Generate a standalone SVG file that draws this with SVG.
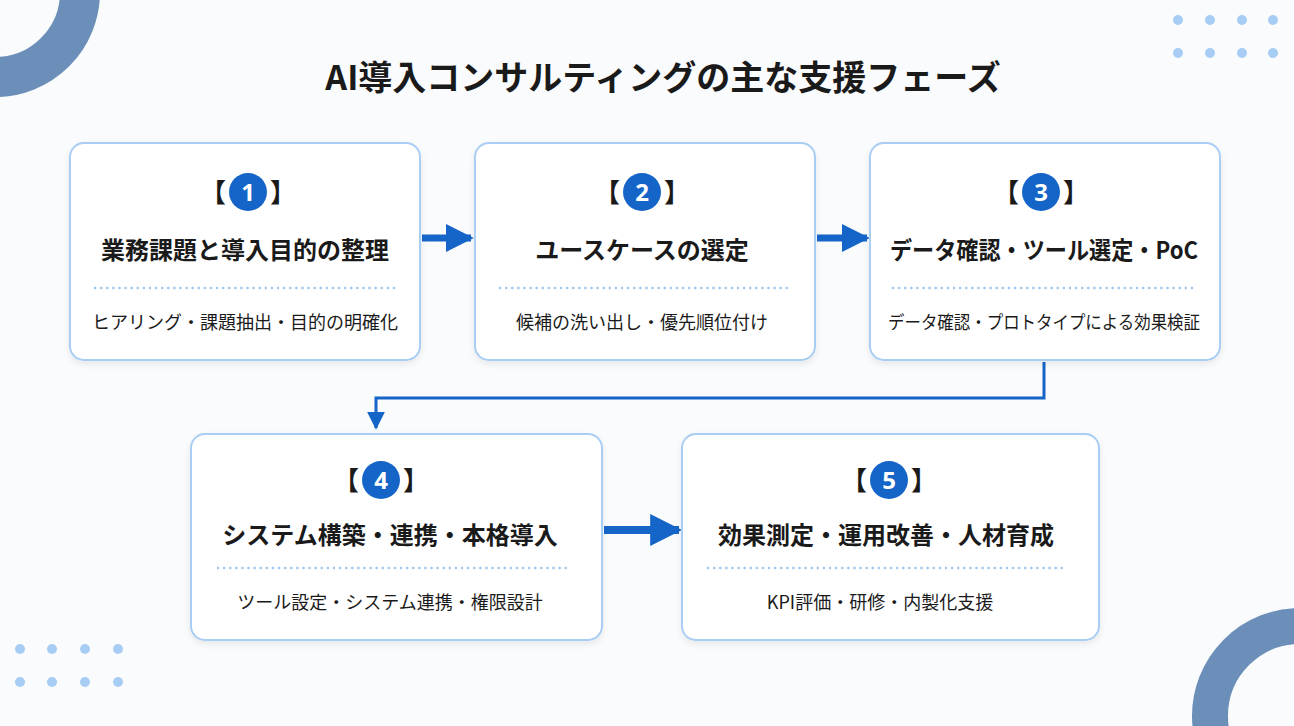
<svg xmlns="http://www.w3.org/2000/svg" width="1294" height="726" viewBox="0 0 1294 726">
<defs>
<style>
.box{fill:#fff;stroke:#a9cdf3;stroke-width:2}
.t{font-family:"Noto Sans CJK JP","Noto Sans",sans-serif;fill:#1a1a1a;text-anchor:middle}
.h{font-size:24px;font-weight:700}
.s{font-size:18px}
.br{font-size:26px;font-weight:700}
.num{font-family:"Noto Sans","Liberation Sans",sans-serif;font-size:24px;font-weight:700;fill:#fff;text-anchor:middle}
.dot{stroke:#9cc6ef;stroke-width:2.5;stroke-dasharray:0.1 6;stroke-linecap:round}
.bd{fill:#1565c8}
.ar{stroke:#1565c8;fill:none}
.dd{fill:#a8cdf5}
</style>
<filter id="sh" x="-10%" y="-10%" width="120%" height="130%"><feDropShadow dx="0" dy="3" stdDeviation="3" flood-color="#000" flood-opacity="0.08"/></filter>
<marker id="ah" viewBox="0 0 10 10" refX="9" refY="5" markerWidth="4" markerHeight="4" orient="auto" markerUnits="strokeWidth"><path d="M0 0L10 5L0 10z" fill="#1565c8"/></marker>
<marker id="ah2" viewBox="0 0 10 10" refX="9" refY="5" markerWidth="6" markerHeight="6" orient="auto" markerUnits="strokeWidth"><path d="M0 0L10 5L0 10z" fill="#1565c8"/></marker>
</defs>
<rect width="1294" height="726" fill="#fafbfc"/>
<g id="decor">
<circle cx="-5" cy="-8" r="85" fill="none" stroke="#6b8fb8" stroke-width="40"/>
<circle cx="1300" cy="716" r="90" fill="none" stroke="#6b8fb8" stroke-width="36"/>
<g class="dd">
<circle cx="1178" cy="20" r="5"/><circle cx="1210" cy="20" r="5"/><circle cx="1242" cy="20" r="5"/><circle cx="1273" cy="20" r="5"/>
<circle cx="1178" cy="53" r="5"/><circle cx="1210" cy="53" r="5"/><circle cx="1242" cy="53" r="5"/><circle cx="1273" cy="53" r="5"/>
<circle cx="20" cy="649" r="5"/><circle cx="52" cy="649" r="5"/><circle cx="85" cy="649" r="5"/><circle cx="118" cy="649" r="5"/>
<circle cx="20" cy="682" r="5"/><circle cx="52" cy="682" r="5"/><circle cx="85" cy="682" r="5"/><circle cx="118" cy="682" r="5"/>
</g>
</g>
<text id="title" x="663" y="90" class="t" style="font-size:34px;font-weight:700">AI導入コンサルティングの主な支援フェーズ</text>
<g id="connectors">
<line x1="422" y1="238" x2="471" y2="238" class="ar" stroke-width="7" marker-end="url(#ah)"/>
<line x1="817" y1="238" x2="867" y2="238" class="ar" stroke-width="7" marker-end="url(#ah)"/>
<line x1="604" y1="530" x2="679" y2="530" class="ar" stroke-width="8" marker-end="url(#ah)"/>
<path d="M1044 362V398H376V428" class="ar" stroke-width="3" marker-end="url(#ah2)"/>
</g>
<g id="n1">
<rect x="70" y="143" width="350" height="217" rx="14" class="box" filter="url(#sh)"/>
<text x="213" y="202" class="t br">【</text><circle cx="248" cy="192" r="19" class="bd"/><text x="248" y="201" class="num">1</text><text x="283" y="202" class="t br">】</text>
<text x="245" y="259" class="t h">業務課題と導入目的の整理</text>
<line x1="95" y1="288" x2="397" y2="288" class="dot"/>
<text x="245" y="329" class="t s">ヒアリング・課題抽出・目的の明確化</text>
</g>
<g id="n2">
<rect x="475" y="143" width="340" height="217" rx="14" class="box" filter="url(#sh)"/>
<text x="607" y="202" class="t br">【</text><circle cx="642" cy="192" r="19" class="bd"/><text x="642" y="201" class="num">2</text><text x="677" y="202" class="t br">】</text>
<text x="642" y="259" class="t h">ユースケースの選定</text>
<line x1="500" y1="288" x2="790" y2="288" class="dot"/>
<text x="642" y="329" class="t s">候補の洗い出し・優先順位付け</text>
</g>
<g id="n3">
<rect x="870" y="143" width="350" height="217" rx="14" class="box" filter="url(#sh)"/>
<text x="1006" y="202" class="t br">【</text><circle cx="1041" cy="192" r="19" class="bd"/><text x="1041" y="201" class="num">3</text><text x="1076" y="202" class="t br">】</text>
<text x="1044" y="259" class="t h" textLength="308" lengthAdjust="spacingAndGlyphs">データ確認・ツール選定・PoC</text>
<line x1="893" y1="288" x2="1196" y2="288" class="dot"/>
<text x="1044" y="329" class="t s" textLength="312" lengthAdjust="spacingAndGlyphs">データ確認・プロトタイプによる効果検証</text>
</g>
<g id="n4">
<rect x="191" y="434" width="411" height="206" rx="14" class="box" filter="url(#sh)"/>
<text x="346" y="490" class="t br">【</text><circle cx="381" cy="480" r="19" class="bd"/><text x="381" y="489" class="num">4</text><text x="416" y="490" class="t br">】</text>
<text x="390" y="544" class="t h">システム構築・連携・本格導入</text>
<line x1="218" y1="568" x2="566" y2="568" class="dot"/>
<text x="390" y="609" class="t s">ツール設定・システム連携・権限設計</text>
</g>
<g id="n5">
<rect x="682" y="434" width="417" height="206" rx="14" class="box" filter="url(#sh)"/>
<text x="854" y="490" class="t br">【</text><circle cx="889" cy="480" r="19" class="bd"/><text x="889" y="489" class="num">5</text><text x="924" y="490" class="t br">】</text>
<text x="886" y="544" class="t h">効果測定・運用改善・人材育成</text>
<line x1="708" y1="568" x2="1064" y2="568" class="dot"/>
<text x="880" y="609" class="t s">KPI評価・研修・内製化支援</text>
</g>
</svg>
